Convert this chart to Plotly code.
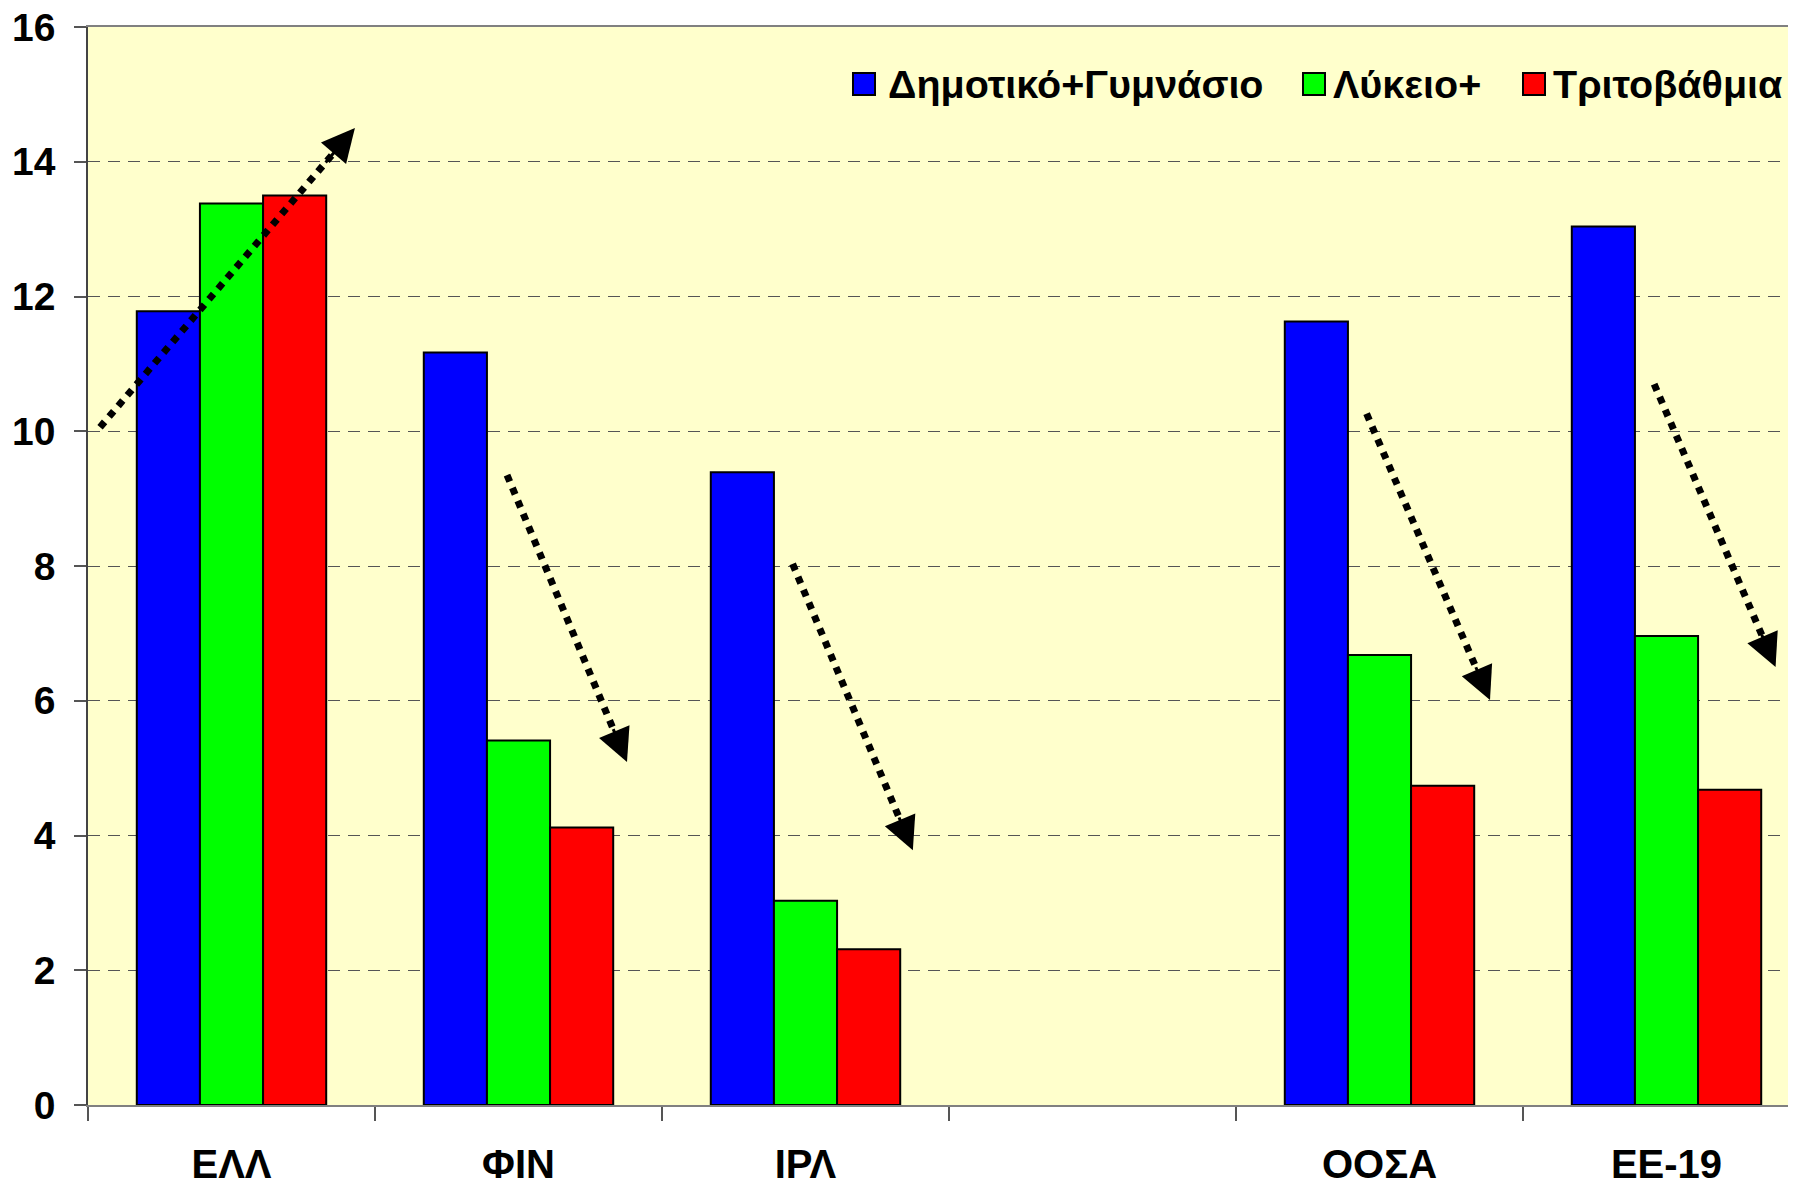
import plotly.graph_objects as go

# ---- data ----
categories = ["ΕΛΛ", "ΦΙΝ", "ΙΡΛ", " ", "ΟΟΣΑ", "ΕΕ-19"]
series_names = ["Δημοτικό+Γυμνάσιο", "Λύκειο+", "Τριτοβάθμια"]
primary_lower_secondary = [11.78, 11.17, 9.39, None, 11.63, 13.04]
upper_secondary = [13.38, 5.41, 3.03, None, 6.68, 6.96]
tertiary = [13.50, 4.12, 2.31, None, 4.74, 4.68]
y_tick_values = [0, 2, 4, 6, 8, 10, 12, 14, 16]

# trend arrows (category-index, value): tail -> tip
arrow_x0 = [-0.458, 0.960, 1.955, 3.955, 4.957]
arrow_y0 = [10.06, 9.35, 8.03, 10.26, 10.70]
arrow_x1 = [0.430, 1.378, 2.374, 4.385, 5.380]
arrow_y1 = [14.50, 5.09, 3.78, 6.01, 6.50]

# ---- style ----
series_colors = ["#0000FF", "#00FF00", "#FF0000"]
FONT = "Liberation Sans, Arial, sans-serif"
OFF = 8  # default page body margin in the browser
W, H = 1796 - OFF, 1184 - OFF
ML, MR, MT, MB = 88 - OFF, 0, 27 - OFF, 79
PW, PH = W - ML - MR, H - MT - MB

series_values = [primary_lower_secondary, upper_secondary, tertiary]

fig = go.Figure()
for name, vals, col in zip(series_names, series_values, series_colors):
    fig.add_trace(go.Bar(
        x=categories, y=vals, name=name,
        marker=dict(color=col, line=dict(color="black", width=2)),
        showlegend=False,
    ))

shapes = []
annotations = []
for x0, y0, x1, y1 in zip(arrow_x0, arrow_y0, arrow_x1, arrow_y1):
    ex = x1 - 0.08 * (x1 - x0)
    ey = y1 - 0.08 * (y1 - y0)
    shapes.append(dict(type="line", xref="x", yref="y", x0=x0, y0=y0, x1=ex, y1=ey,
                       line=dict(color="black", width=7, dash="dot"), layer="above"))
    annotations.append(dict(xref="x", yref="y", axref="x", ayref="y",
                            x=x1, y=y1, ax=x1 - 0.12 * (x1 - x0), ay=y1 - 0.12 * (y1 - y0),
                            text="", showarrow=True, arrowhead=2, arrowsize=2.2,
                            arrowwidth=3, arrowcolor="black"))

# manual legend (page pixel positions converted to paper coords)
def px(xp):
    return (xp - OFF - ML) / PW

def py(yp):
    return (H - MB - (yp - OFF)) / PH

legend_sq_x = [853, 1303, 1523]
legend_txt_x = [886, 1331, 1551]
sq = 22
ly = 84
for name, col, sx, tx in zip(series_names, series_colors, legend_sq_x, legend_txt_x):
    shapes.append(dict(type="rect", xref="paper", yref="paper",
                       x0=px(sx), x1=px(sx + sq), y0=py(ly + sq / 2), y1=py(ly - sq / 2),
                       fillcolor=col, line=dict(color="black", width=2), layer="above"))
    annotations.append(dict(xref="paper", yref="paper", x=px(tx), y=py(ly),
                            xanchor="left", yanchor="middle", text=name, showarrow=False,
                            font=dict(family=FONT, size=39.5, color="black", weight="bold")))

fig.update_layout(
    width=W, height=H, autosize=False,
    margin=dict(l=ML, r=MR, t=MT, b=MB, pad=0),
    paper_bgcolor="white", plot_bgcolor="#FFFFCC",
    barmode="group", bargap=0.34, bargroupgap=0,
    shapes=shapes, annotations=annotations,
    showlegend=False,
    xaxis=dict(type="category", categoryorder="array", categoryarray=categories,
               range=[-0.5, -0.5 + PW / 287.0], automargin=False,
               tickson="boundaries", ticks="outside", ticklen=14, tickwidth=1.5, tickcolor="#555",
               showline=True, linecolor="#808080", linewidth=2, mirror=True,
               showgrid=False, zeroline=False, ticklabelstandoff=23,
               ticklabeloverflow="allow",
               tickfont=dict(family=FONT, size=40, color="black", weight="bold")),
    yaxis=dict(range=[0, 16], tickvals=y_tick_values, ticks="outside", ticklen=12,
               tickwidth=1.5, tickcolor="#555", automargin=False,
               showgrid=True, gridcolor="#555", gridwidth=1, griddash="12px,8px",
               showline=True, linecolor="#444", linewidth=1.5, zeroline=False,
               ticklabelstandoff=11, ticklabeloverflow="allow",
               tickfont=dict(family=FONT, size=39, color="black", weight="bold")),
)

fig.write_html("out.html")
